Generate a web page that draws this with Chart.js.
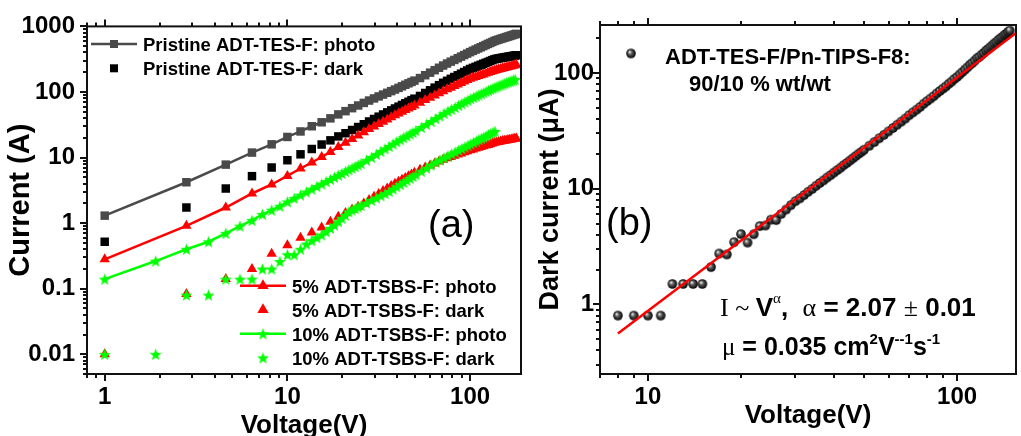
<!DOCTYPE html>
<html>
<head>
<meta charset="utf-8">
<script src="https://cdn.jsdelivr.net/npm/chart.js@4.4.1/dist/chart.umd.min.js"></script>
<style>
  html, body { margin: 0; padding: 0; background: #fff; overflow: hidden; }
  #wrap { position: relative; width: 1021px; height: 436px; overflow: hidden; }
  .panel { position: absolute; top: 0; }
  #panelA { left: 0; }
  #panelB { left: 530px; }
</style>
</head>
<body>
<div id="wrap">
  <div class="panel" id="panelA"><canvas id="chartA" width="540" height="450"></canvas></div>
  <div class="panel" id="panelB"><canvas id="chartB" width="491" height="450"></canvas></div>
</div>
<script>
// panel (a): voltages (V) and currents (A)
const voltsA = [1,2.8,4.6,6.4,8.2,10,11.8,13.6,15.4,17.2,19,20.8,22.6,24.4,26.2,28,29.8,31.6,33.4,35.2,37,38.8,40.6,42.4,44.2,46,47.8,49.6,
  53.2,56.8,60.4,64,67.6,71.2,74.8,78.4,82,85.6,89.2,92.8,96.4,100,103.6,107.2,110.8,114.4,118,121.6,125.2,128.8,132.4,136,139.6,143.2,146.8,150.4,154,157.6,161.2,164.8,168.4,172,175.6,179.2];
const pristinePhoto = [1.3,4.2,7.8,11.9,15.9,20.6,25,30,34.5,39.6,45.5,51,56.6,62.2,68.1,74,79.7,85.5,91.3,97.1,103,109,115.5,122,128.7,135.5,142,149,
  163,180,197,215,234,253,271.5,290,308,327,346,365.6,385,405,424,443,461.5,481,500,520,540,559,579,600,615,630,644,658,672,686,700,714,728,742,756,770];
const pristineDark = [0.52,1.73,3.37,5.2,7.05,9.1,11.2,13.5,15.8,18.3,21,23.5,26.3,29.2,32.2,35.5,38.7,42,45.4,48.9,52.4,56,59.7,63.4,67.2,71,75,79,
  87,96.5,106,116.5,127,138,148,158.6,169,179.6,190,201.5,212.7,224,233,242,251,260,269,278,287,296.6,306,315,321,325,329,333,337,340.7,344.5,348,351.8,355.6,359,363];
const tsbs5Photo = [0.28,0.91,1.73,2.83,3.88,5.25,6.8,8.4,10.2,12.2,14.5,16.8,19.2,21.7,24.4,27.2,29.8,32.5,35.3,38.1,41,44,46.9,49.9,52.9,55.9,59,62.2,
  68.7,75.2,81.8,88.6,95.5,102.6,109.6,116.4,123.3,130.3,137.4,144.5,151.8,159,164.3,169.7,174.9,180.1,185.4,190.8,195.9,201,206.4,211.6,216,220,224,228,232,236,240,243.7,247.7,251.4,255.4,259];
const tsbs5Dark = [0.01,0.083,0.14,0.2,0.34,0.46,0.6,0.72,0.86,1.05,1.25,1.43,1.62,1.77,2,2.25,2.52,2.79,3.08,3.37,3.68,4,4.29,4.59,4.89,5.2,5.52,5.84,
  6.5,7.03,7.58,8.13,8.69,9.23,9.74,10.2,10.65,11.1,11.55,12,12.45,12.9,13.3,13.7,14.1,14.5,14.9,15.3,15.6,16,16.4,16.8,17.1,17.3,17.5,17.8,18,18.2,18.5,18.7,18.9,19.1,19.3,19.5];
const voltsA10 = [1,1.9,2.8,3.7,4.6,5.5,6.4,7.3,8.2,9.1,10,10.9,11.8,12.7,13.6,14.5,15.4,16.3,17.2,18.1,19,19.9,20.8,21.7,22.6,23.5,24.4,25.3,
  27.1,28.9,30.7,32.5,34.3,36.1,37.9,39.7,41.5,43.3,45.1,46.9,48.7,50.5,
  54.1,57.7,61.3,64.9,68.5,72.1,75.7,79.3,82.9,86.5,90.1,93.7,97.3,100.9,104.5,108.1,111.7,115.3,118.9,122.5,126.1,129.7,133.3,136.9,140.5,144.1,147.7,151.3,154.9,158.5,162.1,165.7,169.3,172.9,176.5];
const tsbs10Photo = [0.14,0.264,0.4,0.52,0.7,0.9,1.1,1.36,1.58,1.81,2.11,2.39,2.68,2.98,3.3,3.62,3.95,4.29,4.63,4.99,5.35,5.72,6.1,6.49,6.88,7.28,7.69,8.1,
  9.09,10.1,11.2,12.4,13.6,14.8,16.1,17.4,18.7,20.1,21.3,22.8,24.1,25.7,
  28.8,32.1,35.6,39.3,43,46.9,50.6,54.4,58.2,62.2,66.3,70.4,74.6,79,82.7,86.4,90.1,94,97.8,101.7,105.5,109.5,113.4,117.5,121.4,124.7,128.1,131.6,135,138.4,141.8,145.3,148.7,152.2,155.6];
const tsbs10Dark = [0.01,0.01,0.08,0.08,0.14,0.14,0.14,0.2,0.2,0.26,0.33,0.33,0.4,0.48,0.54,0.6,0.66,0.74,0.83,0.93,1.05,1.18,1.32,1.49,1.58,1.67,1.76,1.85,
  2.03,2.23,2.42,2.62,2.82,3.04,3.31,3.59,3.88,4.18,4.49,4.81,5.14,5.47,
  6.17,6.91,7.68,8.5,9.19,9.9,10.6,11.4,12.1,12.9,13.7,14.5,15.3,16.1,17,17.8,18.7,19.6,20.4,21.3,22.3,23.2,24.1,25.1];

// panel (b): dark current (uA) of the 90/10 blend and its power-law fit
const voltsB = [8,9,10,11,12,13,14,15,16,17,18,19,20,21,22,23,24,25,26,27,28,29,30,31,32,33,34,35,36,37,38,39,40,41,42,43,44,45,46,47,48,49,50,
  52,54,56,58,60,62,64,66,68,70,72,74,76,78,80,82,84,86,88,90,92,94,96,98,100,102,104,106,108,110,112,114,116,118,120,122,124,126,128,130,132,134,136,138,140,142,144,146,148];
const blendDark = [0.8,0.8,0.8,0.8,1.5,1.5,1.5,1.5,2.1,2.75,2.7,3.45,4.05,3.42,4.04,4.75,4.8,5.4,5.35,6.05,6.6,7.2,7.8,8.25,8.8,9.4,9.95,10.6,11.2,11.8,12.5,13.1,13.8,14.5,15.2,16,16.7,17.5,18.3,19.1,20,20.8,21.7,
  23.5,25.3,27.3,29.2,31.3,33.5,35.7,38,40.4,43.2,45.7,48.3,51,54.3,57.2,60.1,63.1,66.8,70,73.3,76.6,80.8,84.3,88.8,92.5,97.3,102,107,112,118,122,128,134,138,144,149,156,161,167,173,180,185,193,199,204,212,218,226,233];
const fitVolts = [8, 155];
const fitCurrent = [0.56, 222];

// labelled ticks
const xTicksA = [1, 10, 100];
const yTicksA = [0.01, 0.1, 1, 10, 100, 1000];
const xTicksB = [10, 100];
const yTicksB = [1, 10, 100];

const SANS = "'Liberation Sans', Arial, sans-serif";
const SERIF = "'Liberation Serif', 'Times New Roman', serif";
Chart.defaults.font.family = SANS;
Chart.defaults.color = '#000';

const pts = (xs, ys) => ys.map((y, i) => ({ x: xs[i], y: y }));

function starImage(color, outer) {
  const n = Math.ceil(outer * 2 + 2);
  const c = document.createElement('canvas');
  c.width = c.height = n;
  const g = c.getContext('2d');
  g.beginPath();
  for (let i = 0; i < 10; i++) {
    const r = i % 2 ? outer * 0.42 : outer;
    const a = -Math.PI / 2 + i * Math.PI / 5;
    g.lineTo(n / 2 + r * Math.cos(a), n / 2 + 0.6 + r * Math.sin(a));
  }
  g.closePath();
  g.fillStyle = color;
  g.fill();
  return c;
}

function beadImage(r) {
  const n = Math.ceil(r * 2 + 2);
  const c = document.createElement('canvas');
  c.width = c.height = n;
  const g = c.getContext('2d');
  const m = n / 2;
  const grd = g.createRadialGradient(m - 1.5, m - 1.7, 0.3, m, m, r);
  grd.addColorStop(0, '#eeeeee');
  grd.addColorStop(0.4, '#585858');
  grd.addColorStop(1, '#000');
  g.fillStyle = grd;
  g.beginPath();
  g.arc(m, m, r, 0, Math.PI * 2);
  g.fill();
  return c;
}

const greenStar = starImage('#00ff00', 6.3);
const bead = beadImage(4.8);

const seriesA = [
  { label: 'Pristine ADT-TES-F: photo', xs: voltsA, ys: pristinePhoto, color: '#4a4a4a', style: 'rect', radius: 6, line: true },
  { label: 'Pristine ADT-TES-F: dark', xs: voltsA, ys: pristineDark, color: '#000000', style: 'rect', radius: 6, line: false },
  { label: '5% ADT-TSBS-F: photo', xs: voltsA, ys: tsbs5Photo, color: '#ff0000', style: 'triangle', radius: 6, line: true },
  { label: '5% ADT-TSBS-F: dark', xs: voltsA, ys: tsbs5Dark, color: '#ff0000', style: 'triangle', radius: 6, line: false },
  { label: '10% ADT-TSBS-F: photo', xs: voltsA10, ys: tsbs10Photo, color: '#00ff00', style: greenStar, radius: 5, line: true },
  { label: '10% ADT-TSBS-F: dark', xs: voltsA10, ys: tsbs10Dark, color: '#00ff00', style: greenStar, radius: 5, line: false }
];

function logTicks(min, max) {
  const out = [];
  for (let e = Math.floor(Math.log10(min)); e <= Math.ceil(Math.log10(max)); e++) {
    for (let m = 1; m <= 9; m++) {
      const v = m * Math.pow(10, e);
      if (v >= min * 0.999 && v <= max * 1.001) out.push({ v: v, major: m === 1 });
    }
  }
  return out;
}

// frame round the plot and outward tick marks (bottom, top, left)
const frameTicks = {
  id: 'frameTicks',
  afterDraw(chart) {
    const { ctx, chartArea: a } = chart;
    const x = chart.scales.x, y = chart.scales.y;
    ctx.save();
    ctx.strokeStyle = '#111';
    ctx.lineWidth = 2;
    ctx.beginPath();
    logTicks(x.min, x.max).forEach(t => {
      const px = Math.round(x.getPixelForValue(t.v));
      const len = t.major ? 7 : 4;
      ctx.moveTo(px, a.bottom); ctx.lineTo(px, a.bottom + len);
      ctx.moveTo(px, a.top); ctx.lineTo(px, a.top - len);
    });
    logTicks(y.min, y.max).forEach(t => {
      const py = Math.round(y.getPixelForValue(t.v));
      const len = t.major ? 7 : 4;
      ctx.moveTo(a.left, py); ctx.lineTo(a.left - len, py);
    });
    ctx.stroke();
    ctx.strokeRect(a.left, a.top, a.right - a.left, a.bottom - a.top);
    ctx.restore();
  }
};

function drawMarker(ctx, s, x, y, r) {
  ctx.fillStyle = s.color;
  if (s.style === 'rect') {
    ctx.fillRect(x - 4, y - 4, 8, 8);
  } else if (s.style === 'triangle') {
    ctx.beginPath();
    ctx.moveTo(x, y - r);
    ctx.lineTo(x + r * 0.866, y + r / 2);
    ctx.lineTo(x - r * 0.866, y + r / 2);
    ctx.closePath();
    ctx.fill();
  } else {
    ctx.drawImage(s.style, x - s.style.width / 2, y - s.style.height / 2);
  }
}

function drawRuns(ctx, x, y, runs) {
  runs.forEach(r => {
    ctx.font = r.font;
    ctx.fillText(r.t, x, y + (r.dy || 0));
    x += ctx.measureText(r.t).width;
  });
}

// legend of panel (a): two rows top left, four rows bottom right
const legendA = {
  id: 'legendA',
  afterDraw(chart) {
    const ctx = chart.ctx;
    const rows = [
      { i: 0, mx: 114, my: 44, tx: 143, ty: 50.5 },
      { i: 1, mx: 114, my: 68.3, tx: 143, ty: 74.8 },
      { i: 2, mx: 263, my: 285.8, tx: 292, ty: 292.5 },
      { i: 3, mx: 263, my: 309.8, tx: 292, ty: 316.5 },
      { i: 4, mx: 263, my: 333.8, tx: 292, ty: 340.5 },
      { i: 5, mx: 263, my: 357.8, tx: 292, ty: 364.5 }
    ];
    ctx.save();
    rows.forEach(r => {
      const s = seriesA[r.i];
      if (s.line) {
        ctx.strokeStyle = s.color;
        ctx.lineWidth = 2.5;
        ctx.beginPath();
        ctx.moveTo(r.mx - 23, r.my); ctx.lineTo(r.mx + 23, r.my);
        ctx.stroke();
      }
      drawMarker(ctx, s, r.mx, r.my, 6.5);
      ctx.fillStyle = '#000';
      ctx.font = `bold 18.5px ${SANS}`;
      ctx.fillText(s.label, r.tx, r.ty);
    });
    ctx.font = `38px ${SANS}`;
    ctx.fillText('(a)', 428, 237);
    ctx.restore();
  }
};

const notesB = {
  id: 'notesB',
  afterDraw(chart) {
    const ctx = chart.ctx;
    ctx.save();
    ctx.fillStyle = '#000';
    ctx.drawImage(bead, 101 - bead.width / 2, 53.5 - bead.height / 2);
    ctx.font = `bold 22px ${SANS}`;
    ctx.fillText('ADT-TES-F/Pn-TIPS-F8:', 135, 63.5);
    ctx.fillText('90/10 % wt/wt', 159, 90.5);
    ctx.font = `38px ${SANS}`;
    ctx.fillText('(b)', 76, 235);
    const b26 = `bold 26px ${SANS}`, s26 = `26px ${SERIF}`, s15 = `15px ${SERIF}`;
    drawRuns(ctx, 190, 316, [
      { t: 'I', font: s26 }, { t: ' ~ ', font: s26 }, { t: 'V', font: b26 }, { t: 'α', font: s15, dy: -13 },
      { t: ',  ', font: b26 }, { t: 'α', font: s26 }, { t: ' = 2.07 ', font: b26 }, { t: '±', font: s26 }, { t: ' 0.01', font: b26 }
    ]);
    const b25 = `bold 25px ${SANS}`, b15 = `bold 15px ${SANS}`;
    drawRuns(ctx, 192, 355, [
      { t: 'μ', font: `25px ${SERIF}` }, { t: ' = 0.035 cm', font: b25 }, { t: '2', font: b15, dy: -11 },
      { t: 'V', font: b25 }, { t: '--1', font: b15, dy: -11 }, { t: 's', font: b25 }, { t: '-1', font: b15, dy: -11 }
    ]);
    ctx.restore();
  }
};

function logAxis(min, max, labels, title, o) {
  return {
    type: 'logarithmic', min: min, max: max,
    afterBuildTicks: s => { s.ticks = labels.map(v => ({ value: v })); },
    afterFit: s => { if (s.isHorizontal()) s.height = o.size; else s.width = o.size; },
    grid: { display: false, drawTicks: false },
    border: { display: false },
    ticks: { autoSkip: false, maxRotation: 0, padding: o.tickPad, color: '#000',
      font: { size: 24, weight: 'bold' }, callback: v => String(v) },
    title: { display: true, text: title, color: '#000',
      font: { size: o.titleSize, weight: 'bold' }, padding: o.titlePad }
  };
}

new Chart(document.getElementById('chartA').getContext('2d'), {
  type: 'scatter',
  data: {
    datasets: seriesA.map((s, i) => ({
      label: s.label,
      data: pts(s.xs, s.ys),
      showLine: s.line,
      borderColor: s.color,
      borderWidth: 2.5,
      pointStyle: s.style,
      pointRadius: s.radius,
      pointBackgroundColor: s.color,
      pointBorderColor: s.color,
      pointBorderWidth: 0,
      order: seriesA.length - i,
      clip: false
    }))
  },
  options: {
    responsive: false,
    animation: false,
    devicePixelRatio: 1,
    layout: { padding: { top: 25, right: 19, left: 0, bottom: 0 } },
    plugins: { legend: { display: false }, tooltip: { enabled: false } },
    scales: {
      x: logAxis(0.8, 190, xTicksA, 'Voltage(V)', { size: 76, tickPad: 9, titleSize: 26, titlePad: { top: 0, bottom: 9 } }),
      y: logAxis(0.005, 1000, yTicksA, 'Current (A)', { size: 87, tickPad: 12, titleSize: 29, titlePad: { top: 4, bottom: 0 } })
    }
  },
  plugins: [frameTicks, legendA]
});

new Chart(document.getElementById('chartB').getContext('2d'), {
  type: 'scatter',
  data: {
    datasets: [
      {
        label: 'fit',
        data: pts(fitVolts, fitCurrent),
        showLine: true,
        borderColor: '#ff0000',
        borderWidth: 2.5,
        pointRadius: 0,
        order: 0,
        clip: false
      },
      {
        label: 'ADT-TES-F/Pn-TIPS-F8: 90/10 % wt/wt',
        data: pts(voltsB, blendDark),
        showLine: false,
        pointStyle: bead,
        pointRadius: 4,
        order: 1,
        clip: false
      }
    ]
  },
  options: {
    responsive: false,
    animation: false,
    devicePixelRatio: 1,
    layout: { padding: { top: 25, right: 2, left: 0, bottom: 0 } },
    plugins: { legend: { display: false }, tooltip: { enabled: false } },
    scales: {
      x: logAxis(7, 155, xTicksB, 'Voltage(V)', { size: 76, tickPad: 9, titleSize: 26, titlePad: { top: 0, bottom: 19 } }),
      y: logAxis(0.25, 260, yTicksB, 'Dark current (μA)', { size: 70, tickPad: 6, titleSize: 27, titlePad: { top: 4, bottom: 0 } })
    }
  },
  plugins: [frameTicks, notesB]
});
</script>
</body>
</html>
